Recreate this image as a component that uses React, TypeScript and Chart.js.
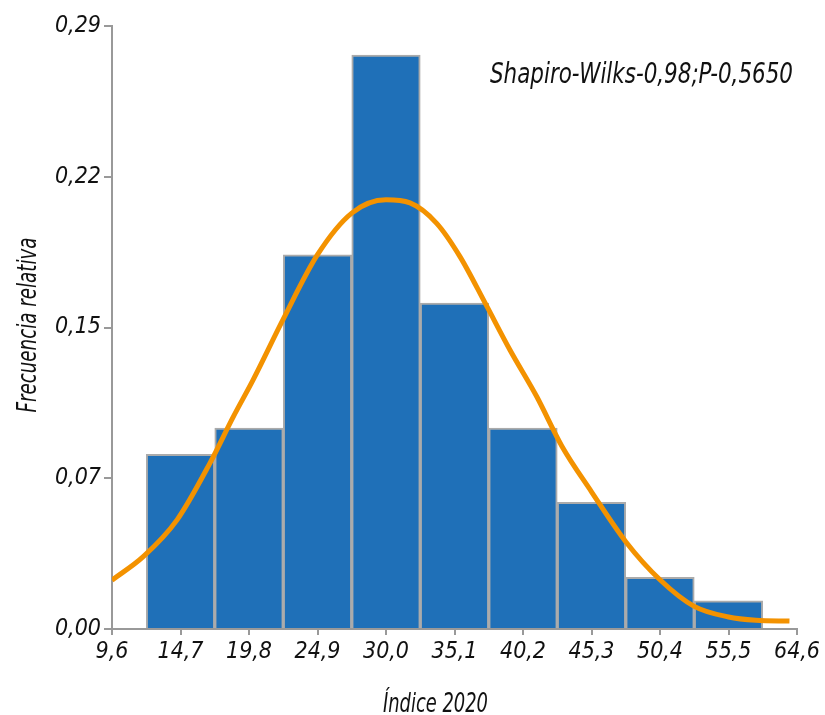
import React, { useEffect, useRef } from 'react';
import { Chart, registerables } from 'chart.js';

Chart.register(...registerables);

const xTickLabels = ['9,6', '14,7', '19,8', '24,9', '30,0', '35,1', '40,2', '45,3', '50,4', '55,5', '64,6'];
const xTickPositions = [0, 1, 2, 3, 4, 5, 6, 7, 8, 9, 10];
const yTickLabels = ['0,00', '0,07', '0,15', '0,22', '0,29'];
const yTickValues = [0, 0.0725, 0.145, 0.2175, 0.29];

const binPositions = [1, 2, 3, 4, 5, 6, 7, 8, 9];
const binFrequencies = [0.084, 0.0966, 0.18, 0.276, 0.1567, 0.0966, 0.0609, 0.0248, 0.0135];

const curveX = [0, 0.46, 0.95, 1.43, 1.77, 2.06, 2.5, 3, 3.5, 4, 4.35, 4.74, 5.08, 5.45, 5.81, 6.2, 6.57, 7, 7.5, 8, 8.5, 9, 9.4, 9.89];
const curveY = [0.0235, 0.0349, 0.0525, 0.0798, 0.102, 0.1198, 0.149, 0.18, 0.2, 0.2064, 0.2049, 0.1951, 0.1791, 0.1566, 0.1342, 0.1118, 0.0878, 0.066, 0.042, 0.0237, 0.0109, 0.0058, 0.0042, 0.0038];

const annotationText = 'Shapiro-Wilks-0,98;P-0,5650';
const xTitle = 'Índice 2020';
const yTitle = 'Frecuencia relativa';

const FAMILY = "'DejaVu Sans Condensed', 'Liberation Sans', sans-serif";

function drawSqueezed(ctx: any, text: string, x: number, y: number, size: number, targetWidth: number, align: 'left' | 'right' | 'center', rotate = 0) {
  ctx.save();
  ctx.font = `italic ${size}px ${FAMILY}`;
  const w = ctx.measureText(text).width;
  const sx = targetWidth / w;
  ctx.translate(x, y);
  if (rotate) ctx.rotate(rotate);
  ctx.scale(sx, 1);
  ctx.textAlign = align;
  ctx.fillText(text, 0, 0);
  ctx.restore();
}

const textPlugin = {
  id: 'extraTexts',
  afterDraw(chart: any) {
    const { ctx } = chart;
    ctx.save();
    ctx.fillStyle = '#111111';
    ctx.textBaseline = 'alphabetic';
    drawSqueezed(ctx, annotationText, 793, 83, 29, 303, 'right');
    drawSqueezed(ctx, xTitle, 435.5, 712, 27, 105, 'center');
    drawSqueezed(ctx, yTitle, 36, 325, 27, 175, 'center', -Math.PI / 2);
    ctx.restore();
  },
};

export default function App() {
  const canvasRef = useRef<HTMLCanvasElement | null>(null);

  useEffect(() => {
    if (!canvasRef.current) return;
    const tickFont = { family: FAMILY, size: 23, style: 'italic' as const };
    const chart = new Chart(canvasRef.current, {
      type: 'bar',
      data: {
        datasets: [
          {
            type: 'line' as const,
            data: curveX.map((x, i) => ({ x, y: curveY[i] })),
            borderColor: '#f39200',
            borderWidth: 5,
            pointRadius: 0,
            fill: false,
            cubicInterpolationMode: 'monotone' as const,
            order: 0,
          },
          {
            type: 'bar' as const,
            data: binPositions.map((x, i) => ({ x, y: binFrequencies[i] })),
            backgroundColor: '#1f70b8',
            borderColor: '#ababab',
            borderWidth: 2,
            barPercentage: 1,
            categoryPercentage: 1,
            order: 1,
          },
        ] as any,
      },
      options: {
        animation: false,
        responsive: true,
        maintainAspectRatio: false,
        layout: { padding: { top: 26, right: 28, left: 0, bottom: 0 } },
        plugins: { legend: { display: false }, tooltip: { enabled: false } },
        scales: {
          x: {
            type: 'linear',
            offset: false,
            min: 0,
            max: 10,
            afterBuildTicks: (s: any) => {
              s.ticks = xTickPositions.map((v) => ({ value: v }));
            },
            afterFit: (s: any) => {
              s.height = 86;
            },
            ticks: {
              callback: (_v: any, i: number) => xTickLabels[i],
              font: tickFont,
              color: '#111111',
              padding: 3,
              maxRotation: 0,
              autoSkip: false,
            },
            grid: { drawOnChartArea: false, drawTicks: true, tickLength: 6, color: '#999999', lineWidth: 2, offset: false },
            border: { color: '#999999', width: 2 },
          },
          y: {
            min: 0,
            max: 0.29,
            afterBuildTicks: (s: any) => {
              s.ticks = yTickValues.map((v) => ({ value: v }));
            },
            afterFit: (s: any) => {
              s.width = 112;
            },
            ticks: {
              callback: (_v: any, i: number) => yTickLabels[i],
              font: tickFont,
              color: '#111111',
              padding: 3,
              autoSkip: false,
            },
            grid: { drawOnChartArea: false, drawTicks: true, tickLength: 8, color: '#999999', lineWidth: 2 },
            border: { color: '#999999', width: 2 },
          },
        },
      } as any,
      plugins: [textPlugin],
    });
    return () => chart.destroy();
  }, []);

  return (
    <div style={{ position: 'absolute', left: 0, top: 0, width: 825, height: 715, background: '#ffffff' }}>
      <canvas ref={canvasRef} />
    </div>
  );
}
